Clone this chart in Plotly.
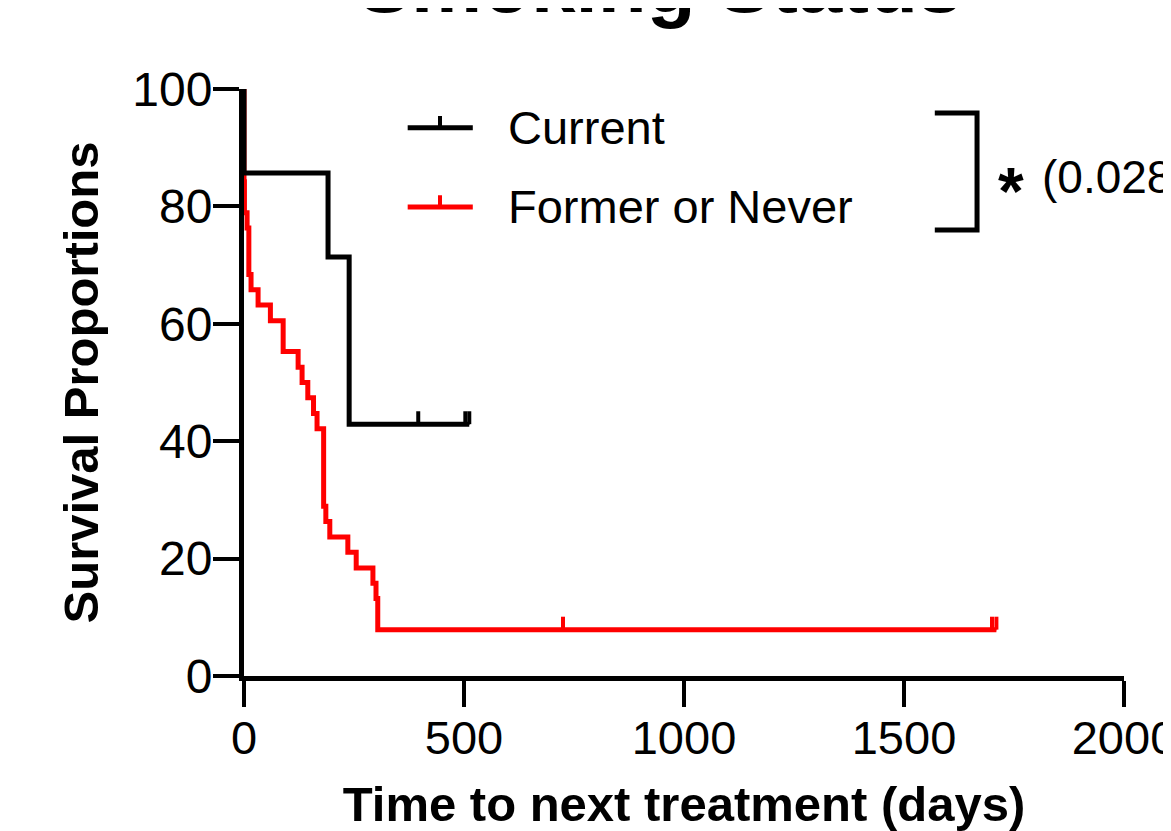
import plotly.graph_objects as go

# ---- data ----
current_time = [0, 0, 191, 239, 512]
current_surv = [100, 85.7, 71.4, 42.9, 42.9]
current_cens_time = [396, 503, 512]
current_cens_surv = [42.9, 42.9, 42.9]

former_time = [0, 0, 1, 7, 11, 16, 32, 60, 89, 123, 132, 145, 158, 166, 181,
               186, 195, 236, 255, 293, 300, 304, 1710]
former_surv = [100, 84.2, 78.9, 76.3, 68.4, 65.8, 63.2, 60.5, 55.3, 52.6, 50.0,
               47.4, 44.7, 42.1, 28.9, 26.3, 23.7, 21.1, 18.4, 15.8, 13.2, 7.9, 7.9]
former_cens_time = [725, 1700, 1710]
former_cens_surv = [7.9, 7.9, 7.9]

x_ticks = [0, 500, 1000, 1500, 2000]
y_ticks = [0, 20, 40, 60, 80, 100]

series_names = ["Current", "Former or Never"]
series_colors = ["#000000", "#FF0000"]
p_text = "(0.028)"

FONT = "Arial, Liberation Sans, sans-serif"
LW = 5
TICK_UP = 2.2  # censor tick height in % units

fig = go.Figure()

# Former or Never (drawn first, below)
fig.add_trace(go.Scatter(x=former_time, y=former_surv, mode="lines",
                         line=dict(color=series_colors[1], width=LW, shape="hv"),
                         name=series_names[1], showlegend=False))
fig.add_trace(go.Scatter(x=former_cens_time, y=former_cens_surv, mode="markers",
                         marker=dict(size=1, color=series_colors[1]),
                         error_y=dict(type="data", symmetric=False,
                                      array=[TICK_UP] * len(former_cens_time),
                                      arrayminus=[0] * len(former_cens_time),
                                      width=0, thickness=4, color=series_colors[1]),
                         showlegend=False, hoverinfo="skip"))
# Current
fig.add_trace(go.Scatter(x=current_time, y=current_surv, mode="lines",
                         line=dict(color=series_colors[0], width=LW, shape="hv"),
                         name=series_names[0], showlegend=False))
fig.add_trace(go.Scatter(x=current_cens_time, y=current_cens_surv, mode="markers",
                         marker=dict(size=1, color=series_colors[0]),
                         error_y=dict(type="data", symmetric=False,
                                      array=[TICK_UP] * len(current_cens_time),
                                      arrayminus=[0] * len(current_cens_time),
                                      width=0, thickness=4, color=series_colors[0]),
                         showlegend=False, hoverinfo="skip"))

shapes = []
annotations = []
# manual legend
leg_y = [0.934, 0.799]
for name, col, yy in zip(series_names, series_colors, leg_y):
    shapes.append(dict(type="line", xref="paper", yref="paper", x0=0.186, x1=0.260,
                       y0=yy, y1=yy, line=dict(color=col, width=LW)))
    shapes.append(dict(type="line", xref="paper", yref="paper", x0=0.2227, x1=0.2227,
                       y0=yy, y1=yy + 0.02, line=dict(color=col, width=4)))
    annotations.append(dict(text=name, xref="paper", yref="paper", x=0.298, y=yy,
                            xanchor="left", yanchor="middle", showarrow=False,
                            font=dict(family=FONT, size=47, color="black")))

# significance bracket
bx0, bx1, by0, by1 = 0.785, 0.833, 0.760, 0.959
shapes.append(dict(type="path", xref="paper", yref="paper",
                   path=f"M {bx0},{by1} L {bx1},{by1} L {bx1},{by0} L {bx0},{by0}",
                   line=dict(color="black", width=LW)))
annotations.append(dict(text="<b>*</b>", xref="paper", yref="paper", x=0.872, y=0.826,
                        xanchor="center", yanchor="middle", showarrow=False,
                        font=dict(family=FONT, size=66, color="black")))
annotations.append(dict(text=p_text, xref="paper", yref="paper", x=0.905, y=0.850,
                        xanchor="left", yanchor="middle", showarrow=False,
                        font=dict(family=FONT, size=46, color="black")))

fig.update_layout(
    width=1163, height=823, autosize=False,
    margin=dict(l=236, r=47, t=81, b=155, pad=0, autoexpand=False),
    paper_bgcolor="white", plot_bgcolor="white",
    title=dict(text="<b>Smoking Status</b>", x=652 / 1163, xanchor="center",
               xref="container", yref="container", y=1 - 4 / 823, yanchor="bottom",
               automargin=False,
               font=dict(family=FONT, size=80, color="black")),
    shapes=shapes, annotations=annotations,
    font=dict(family=FONT, color="black"),
)
fig.update_xaxes(range=[0, 2000], tickvals=x_ticks, ticks="outside", ticklen=26,
                 tickwidth=4, tickcolor="black", showline=True, linewidth=5,
                 linecolor="black", showgrid=False, zeroline=False, layer="below traces",
                 ticklabeloverflow="allow", ticklabelstandoff=-9, automargin=False,
                 tickfont=dict(family=FONT, size=47, color="black"),
                 title=dict(text="<b>Time to next treatment (days)</b>", standoff=32,
                            font=dict(family=FONT, size=49, color="black")))
fig.update_yaxes(range=[0, 100], tickvals=y_ticks, ticks="outside", ticklen=26,
                 tickwidth=4, tickcolor="black", showline=True, linewidth=5,
                 linecolor="black", showgrid=False, zeroline=False, layer="below traces",
                 ticklabeloverflow="allow", ticklabelstandoff=-9, automargin=False,
                 tickfont=dict(family=FONT, size=48, color="black"),
                 title=dict(text="<b>Survival Proportions</b>", standoff=20,
                            font=dict(family=FONT, size=49, color="black")))

fig.write_html("out.html")
